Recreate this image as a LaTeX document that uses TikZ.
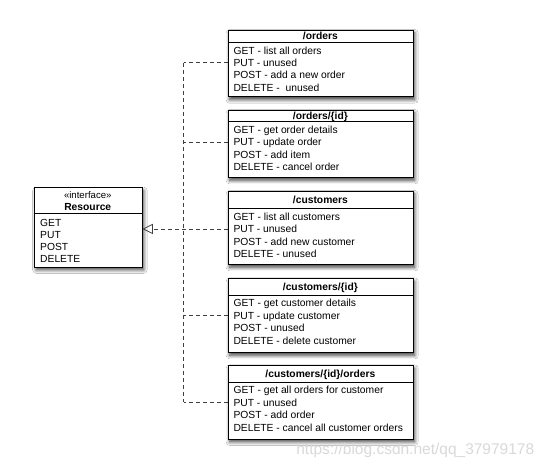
\documentclass[tikz,border=0pt]{standalone}
\usepackage{fontspec}
\setmainfont{Liberation Sans}
\usetikzlibrary{calc,shadows.blur,arrows.meta}
\tikzset{
  box/.style={draw=black, fill=white, line width=0.8pt, minimum width=185pt, inner sep=0pt, anchor=north west,
    blur shadow={shadow xshift=1.8pt, shadow yshift=-3pt, shadow blur radius=3.5pt, shadow blur steps=8, shadow opacity=75}},
  hdr/.style={draw=black, line width=0.8pt, minimum width=185pt, inner sep=0pt, anchor=north west,
    text height=7.5pt, text depth=0pt, font=\bfseries\fontsize{10.3}{12.4}\selectfont},
  ln/.style={anchor=base west, inner xsep=5.8pt, inner ysep=0pt, text height=7.5pt, text depth=0pt,
    font=\fontsize{10.3}{12.4}\selectfont},
  dep/.style={draw=black!75, dash pattern=on 4pt off 3pt, line width=0.8pt},
}
\newcommand{\apibox}[9]{%
  \node[box, minimum height=#4pt] (#1) at (227.5,-#2) {};
  \node[hdr, minimum height=#3pt] (#1-h) at (227.5,-#2) {#5};
  \node[ln] (#1-1) at ($(#1-h.south west)+(0,-11.5)$) {#6};
  \node[ln] (#1-2) at ($(#1-h.south west)+(0,-23.9)$) {#7};
  \node[ln] (#1-3) at ($(#1-h.south west)+(0,-36.3)$) {#8};
  \node[ln] (#1-4) at ($(#1-h.south west)+(0,-48.7)$) {#9};
}
\begin{document}
\begin{tikzpicture}[x=1pt,y=1pt]
\fill[white] (0,0) rectangle (547,-469);
\useasboundingbox (0,0) rectangle (547,-469);

% interface
\node[box, minimum width=107.5pt, minimum height=79.2pt] (res) at (34,-187.3) {};
\node[hdr, minimum width=107.5pt, minimum height=26pt] (res-h) at (34,-187.3) {};
\node[font=\fontsize{9.6}{11}\selectfont, inner sep=0pt] (res-s) at (87.75,-195.5) {«interface»};
\node[font=\bfseries\fontsize{10.3}{12}\selectfont, inner sep=0pt] (res-n) at (87.75,-207.3) {Resource};
\node[ln, inner xsep=6pt] (res-1) at (34,-226) {GET};
\node[ln, inner xsep=6pt] (res-2) at (34,-238.2) {PUT};
\node[ln, inner xsep=6pt] (res-3) at (34,-250.4) {POST};
\node[ln, inner xsep=6pt] (res-4) at (34,-262.6) {DELETE};

% resources
\apibox{b1}{29.5}{12.3}{66.8}{/orders}{GET - list all orders}{PUT - unused}{POST - add a new order}{DELETE -\ \ unused}
\apibox{b2}{109.5}{11.5}{67.5}{/orders/\{id\}}{GET - get order details}{PUT - update order}{POST - add item}{DELETE - cancel order}
\apibox{b3}{190.5}{17.5}{73.5}{/customers}{GET - list all customers}{PUT - unused}{POST - add new customer}{DELETE - unused}
\apibox{b4}{278}{16.5}{74}{/customers/\{id\}}{GET - get customer details}{PUT - update customer}{POST - unused}{DELETE - delete customer}
\apibox{b5}{365}{16.5}{73.5}{/customers/\{id\}/orders}{GET - get all orders for customer}{PUT - unused}{POST - add order}{DELETE - cancel all customer orders}

% connectors
\coordinate (sp) at (183.5,0);
\foreach \b in {b1,b2,b4,b5} {\draw[dep] (\b-2.west) -- (\b-2.west -| sp);}
\draw[dep] (b1-2.west -| sp) -- (b5-2.west -| sp);
\draw[dep, -{Triangle[open, length=10.5pt, width=10pt, line width=0.8pt]}] (b3-2.west) -- (b3-2.west -| res.east);

% watermark
\node[text=black!15, font=\fontsize{15.5}{18}\selectfont, inner sep=0pt] (wm) at (415.3,-450) {https://blog.csdn.net/qq\_37979178};
\end{tikzpicture}
\end{document}
